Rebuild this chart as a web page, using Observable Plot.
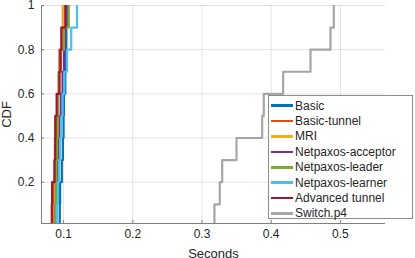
<!DOCTYPE html>
<html><head><meta charset="utf-8">
<script src="https://cdn.jsdelivr.net/npm/d3@7"></script>
<script src="https://cdn.jsdelivr.net/npm/@observablehq/plot@0.6"></script>
<style>
body{margin:0;background:#fff;}
#wrap{position:relative;width:415px;height:258px;font-family:"Liberation Sans",Arial,sans-serif;color:#262626;}
#legend{position:absolute;left:268px;top:95px;width:145px;height:124px;box-sizing:border-box;border:1px solid #8c8c8c;background:#fff;padding-top:2px;}
.item{height:15.4px;display:flex;align-items:center;font-size:12px;white-space:nowrap;}
.sw{width:22px;height:2.5px;margin-left:2px;margin-right:2px;}
</style>
</head><body><div id="wrap"><div id="legend"></div></div>
<script>
const seriesNames = ["Basic","Basic-tunnel","MRI","Netpaxos-acceptor","Netpaxos-leader","Netpaxos-learner","Advanced tunnel","Switch.p4"];
const seriesColors = ["#0072BD","#D95319","#EDB120","#7E2F8E","#77AC30","#4DBEEE","#A2142F","#A6A6A6"];

const basic            = [0.0945,0.0950,0.0975,0.0990,0.1000,0.1005,0.1025,0.1030,0.1040,0.1050];
const basicTunnel      = [0.0855,0.0860,0.0870,0.0875,0.0878,0.0910,0.0930,0.0940,0.0970,0.0990];
const mri              = [0.0870,0.0875,0.0880,0.0890,0.0905,0.0920,0.0940,0.0960,0.0985,0.0995];
const netpaxosAcceptor = [0.0885,0.0890,0.0905,0.0920,0.0940,0.0960,0.0985,0.1005,0.1020,0.1035];
const netpaxosLeader   = [0.0885,0.0890,0.0895,0.0905,0.0915,0.0920,0.0930,0.0960,0.1005,0.1075];
const netpaxosLearner  = [0.0905,0.0920,0.0935,0.0950,0.0970,0.0985,0.1010,0.1050,0.1110,0.1195];
const advancedTunnel   = [0.0830,0.0835,0.0870,0.0880,0.0885,0.0900,0.0940,0.0955,0.0970,0.1025];
const switchP4         = [0.3180,0.3257,0.3292,0.3499,0.3870,0.3893,0.4173,0.4568,0.4857,0.4905];

const xTicks = [0.1,0.2,0.3,0.4,0.5];
const yTicks = [0.2,0.4,0.6,0.8,1];
const xDomain = [0.0681,0.5652];
const yDomain = [0.013,1];

const samples = [basic,basicTunnel,mri,netpaxosAcceptor,netpaxosLeader,netpaxosLearner,advancedTunnel,switchP4];
const rows = samples.flatMap((s,k)=>{
  const sorted=[...s].sort(d3.ascending);
  const n=sorted.length;
  return [{name:seriesNames[k],x:sorted[0],y:0},...sorted.map((v,i)=>({name:seriesNames[k],x:v,y:(i+1)/n}))];
});

const chart = Plot.plot({
  width:415,height:258,
  marginLeft:41,marginRight:30,marginTop:5,marginBottom:35,
  style:{fontFamily:'"Liberation Sans",Arial,sans-serif',fontSize:"12px",color:"#262626",background:"#fff"},
  x:{domain:xDomain},
  y:{domain:yDomain},
  color:{domain:seriesNames,range:seriesColors},
  marks:[
    Plot.gridX(xTicks,{stroke:"#000",strokeOpacity:0.11}),
    Plot.gridY(yTicks,{stroke:"#000",strokeOpacity:0.11}),
    Plot.line(rows,{x:"x",y:"y",z:"name",stroke:"name",curve:"step-after",strokeWidth:2.2,clip:true}),
    Plot.ruleX([xDomain[0]],{stroke:"#808080"}),
    Plot.ruleY([yDomain[0]],{stroke:"#808080"}),
    Plot.axisX(xTicks,{tickSize:-3,stroke:"#808080",tickFormat:()=>"",label:null}),
    Plot.axisY(yTicks,{tickSize:-3,stroke:"#808080",tickFormat:()=>"",label:null}),
    Plot.axisX(xTicks,{tickSize:0,tickPadding:6,fontSize:12,fill:"#262626",tickFormat:d=>String(d),label:"Seconds",labelAnchor:"center",labelArrow:"none",labelOffset:34}),
    Plot.axisY(yTicks,{tickSize:0,tickPadding:7,fontSize:12,fill:"#262626",tickFormat:d=>String(d),label:"CDF",labelAnchor:"center",labelArrow:"none",labelOffset:40})
  ]
});
const wrap=document.getElementById("wrap");
wrap.insertBefore(chart,wrap.firstChild);
chart.querySelectorAll('[aria-label="x-axis label"] text, [aria-label="y-axis label"] text').forEach(t=>t.style.fontSize="13px");

const legend=document.getElementById("legend");
seriesNames.forEach((n,i)=>{
  const d=document.createElement("div");d.className="item";
  const s=document.createElement("span");s.className="sw";s.style.background=seriesColors[i];
  d.appendChild(s);d.appendChild(document.createTextNode(n));legend.appendChild(d);
});
</script>
</body></html>
